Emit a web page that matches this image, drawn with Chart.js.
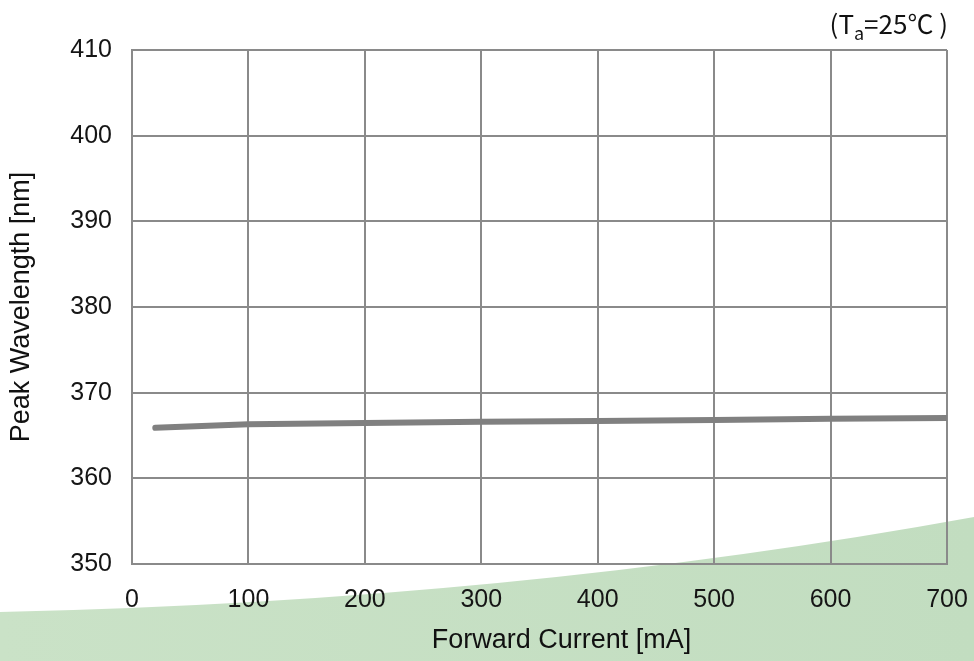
<!DOCTYPE html>
<html>
<head>
<meta charset="utf-8">
<script src="https://cdn.jsdelivr.net/npm/chart.js@4/dist/chart.umd.min.js"></script>
<style>
  html, body { margin: 0; padding: 0; background: #ffffff; }
  #wrap { width: 974px; height: 661px; }
</style>
</head>
<body>
<div id="wrap"><canvas id="c" width="974" height="661"></canvas></div>
<script>
// Forward current (mA) and peak wavelength (nm) at Ta = 25 °C
const currentMA = [20, 100, 200, 300, 400, 500, 600, 700];
const peakNm = [365.9, 366.3, 366.45, 366.6, 366.7, 366.8, 366.95, 367.05];

// Axis ranges and tick spacing
const xRange = [0, 700];
const xStep = 100;
const yRange = [350, 410];
const yStep = 10;

const xTitle = 'Forward Current [mA]';
const yTitle = 'Peak Wavelength [nm]';

const FONT = "'Liberation Sans', Arial, Helvetica, sans-serif";
const NOTE_FONT = "'Noto Sans CJK KR', 'Noto Sans', sans-serif";
const GRID = '#8a8a8a';

// Soft green sweep behind the plot
const backdrop = {
  id: 'backdrop',
  beforeDraw(chart) {
    const { ctx, width, height } = chart;
    ctx.save();
    ctx.fillStyle = '#ffffff';
    ctx.fillRect(0, 0, width, height);
    const g = ctx.createLinearGradient(0, 0, width, 0);
    g.addColorStop(0, '#cae2c7');
    g.addColorStop(1, '#c2ddc0');
    ctx.fillStyle = g;
    ctx.beginPath();
    ctx.moveTo(0, 612);
    ctx.quadraticCurveTo(513, 601, width, 517);
    ctx.lineTo(width, height);
    ctx.lineTo(0, height);
    ctx.closePath();
    ctx.fill();
    ctx.restore();
  }
};

// Horizontal axis caption and the ambient temperature note
const captions = {
  id: 'captions',
  afterDraw(chart) {
    const { ctx, chartArea } = chart;
    ctx.save();
    ctx.fillStyle = '#111111';

    ctx.font = `27px ${FONT}`;
    ctx.textAlign = 'center';
    ctx.textBaseline = 'middle';
    ctx.fillText(xTitle, chartArea.left + (chartArea.right - chartArea.left) / 2 + 22, 641);

    const base = 34;
    const big = `26px ${NOTE_FONT}`;
    const small = `18px ${NOTE_FONT}`;
    const parts = [
      { t: '(T', f: big, dy: 0 },
      { t: 'a', f: small, dy: 6 },
      { t: '=25℃ )', f: big, dy: 0 }
    ];
    ctx.textBaseline = 'alphabetic';
    ctx.textAlign = 'left';
    let total = 0;
    parts.forEach(p => { ctx.font = p.f; p.w = ctx.measureText(p.t).width; total += p.w; });
    let x = chartArea.right + 1 - total;
    parts.forEach(p => { ctx.font = p.f; ctx.fillText(p.t, x, base + p.dy); x += p.w; });
    ctx.restore();
  }
};

new Chart(document.getElementById('c'), {
  type: 'line',
  data: {
    datasets: [{
      data: currentMA.map((x, i) => ({ x, y: peakNm[i] })),
      borderColor: '#808080',
      borderWidth: 6,
      borderCapStyle: 'round',
      borderJoinStyle: 'round',
      pointRadius: 0,
      tension: 0,
      fill: false
    }]
  },
  options: {
    responsive: false,
    animation: false,
    events: [],
    layout: { padding: { top: 50, right: 27, bottom: 0, left: 0 } },
    plugins: { legend: { display: false }, tooltip: { enabled: false } },
    scales: {
      x: {
        type: 'linear',
        min: xRange[0],
        max: xRange[1],
        afterFit(s) {
          s.height = 97;
          s.paddingLeft = 0;
          s.paddingRight = 0;
        },
        ticks: { stepSize: xStep, padding: 21, color: '#151515', font: { family: FONT, size: 25 } },
        grid: { color: GRID, lineWidth: 2, drawTicks: false },
        border: { display: true, color: GRID, width: 2 },
        title: { display: false }
      },
      y: {
        min: yRange[0],
        max: yRange[1],
        afterFit(s) { s.width = 132; },
        ticks: { stepSize: yStep, padding: 20, color: '#151515', font: { family: FONT, size: 25 } },
        grid: { color: GRID, lineWidth: 2, drawTicks: false },
        border: { display: true, color: GRID, width: 2 },
        title: {
          display: true,
          text: yTitle,
          color: '#111111',
          font: { family: FONT, size: 27 },
          padding: { top: 5, bottom: 0 }
        }
      }
    }
  },
  plugins: [backdrop, captions]
});
</script>
</body>
</html>
